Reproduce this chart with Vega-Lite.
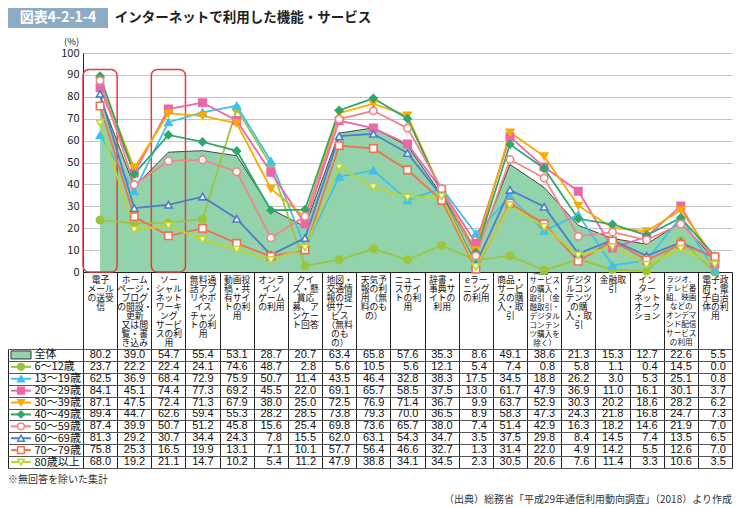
{
  "$schema": "https://vega.github.io/schema/vega-lite/v6.json",
  "padding": {"left": 7, "top": 8, "right": 5, "bottom": 2},
  "autosize": {"type": "pad"},
  "config": {
    "font": "Noto Sans CJK JP",
    "view": {"stroke": null},
    "legend": {"disable": true},
    "axis": {"labelColor": "#222", "domainColor": "#222", "tickColor": "#222"}
  },
  "datasets": {
    "main": [
      {"c": "電子\nメール\nの送受\n信", "box": 1, "全体": 80.2, "6～12歳": 23.7, "13～19歳": 62.5, "20～29歳": 84.1, "30～39歳": 87.1, "40～49歳": 89.4, "50～59歳": 87.4, "60～69歳": 81.3, "70～79歳": 75.8, "80歳以上": 68.0},
      {"c": "ホーム\nページ・\nブログ\nの開設・\n更新\n又は閲\n覧・書\nき込み", "全体": 39.0, "6～12歳": 22.2, "13～19歳": 36.9, "20～29歳": 45.1, "30～39歳": 47.5, "40～49歳": 44.7, "50～59歳": 39.9, "60～69歳": 29.2, "70～79歳": 25.3, "80歳以上": 19.2},
      {"c": "ソー\nシャル\nネット\nワーキ\nング\nサービ\nスの利\n用", "box": 1, "全体": 54.7, "6～12歳": 22.4, "13～19歳": 68.4, "20～29歳": 74.4, "30～39歳": 72.4, "40～49歳": 62.6, "50～59歳": 50.7, "60～69歳": 30.7, "70～79歳": 16.5, "80歳以上": 21.1},
      {"c": "無料通\n話アプ\nリやボ\nイス\nチャッ\nトの利\n用", "全体": 55.4, "6～12歳": 24.1, "13～19歳": 72.9, "20～29歳": 77.3, "30～39歳": 71.3, "40～49歳": 59.4, "50～59歳": 51.2, "60～69歳": 34.4, "70～79歳": 19.9, "80歳以上": 14.7},
      {"c": "動画投\n稿・共\n有サイ\nトの利\n用", "全体": 53.1, "6～12歳": 74.6, "13～19歳": 75.9, "20～29歳": 69.2, "30～39歳": 67.9, "40～49歳": 55.3, "50～59歳": 45.8, "60～69歳": 24.3, "70～79歳": 13.1, "80歳以上": 10.2},
      {"c": "オンラ\nイン\nゲーム\nの利用", "全体": 28.7, "6～12歳": 48.7, "13～19歳": 50.7, "20～29歳": 45.5, "30～39歳": 38.0, "40～49歳": 28.2, "50～59歳": 15.6, "60～69歳": 7.8, "70～79歳": 7.1, "80歳以上": 5.4},
      {"c": "クイ\nズ・懸\n賞応\n募、ア\nンケー\nト回答", "全体": 20.7, "6～12歳": 2.8, "13～19歳": 11.4, "20～29歳": 22.0, "30～39歳": 25.0, "40～49歳": 28.5, "50～59歳": 25.4, "60～69歳": 15.5, "70～79歳": 10.1, "80歳以上": 11.2},
      {"c": "地図・\n交通情\n報の提\n供サー\nビス\n（無料\nのも\nの）", "全体": 63.4, "6～12歳": 5.6, "13～19歳": 43.5, "20～29歳": 69.1, "30～39歳": 72.5, "40～49歳": 73.8, "50～59歳": 69.8, "60～69歳": 62.0, "70～79歳": 57.7, "80歳以上": 47.9},
      {"c": "天気予\n報の利\n用（無\n料のも\nの）", "全体": 65.8, "6～12歳": 10.5, "13～19歳": 46.4, "20～29歳": 65.7, "30～39歳": 76.9, "40～49歳": 79.3, "50～59歳": 73.6, "60～69歳": 63.1, "70～79歳": 56.4, "80歳以上": 38.8},
      {"c": "ニュー\nスサイ\nトの利\n用", "全体": 57.6, "6～12歳": 5.6, "13～19歳": 32.8, "20～29歳": 58.5, "30～39歳": 71.4, "40～49歳": 70.0, "50～59歳": 65.7, "60～69歳": 54.3, "70～79歳": 46.6, "80歳以上": 34.1},
      {"c": "辞書・\n事典サ\nイトの\n利用", "全体": 35.3, "6～12歳": 12.1, "13～19歳": 38.3, "20～29歳": 37.5, "30～39歳": 36.7, "40～49歳": 36.5, "50～59歳": 38.0, "60～69歳": 34.7, "70～79歳": 32.7, "80歳以上": 34.5},
      {"c": "eラー\nニング\nの利用", "全体": 8.6, "6～12歳": 5.4, "13～19歳": 17.5, "20～29歳": 13.0, "30～39歳": 9.9, "40～49歳": 8.9, "50～59歳": 7.4, "60～69歳": 3.5, "70～79歳": 1.3, "80歳以上": 2.3},
      {"c": "商品・\nサービ\nスの購\n入・取\n引", "全体": 49.1, "6～12歳": 7.4, "13～19歳": 34.5, "20～29歳": 61.7, "30～39歳": 63.7, "40～49歳": 58.3, "50～59歳": 51.4, "60～69歳": 37.5, "70～79歳": 31.4, "80歳以上": 30.5},
      {"c": "商品・\nサービス\nの購入・\n取引（金\n融取引・\nデジタル\nコンテン\nツ購入を\n除く）", "全体": 38.6, "6～12歳": 0.8, "13～19歳": 18.8, "20～29歳": 47.9, "30～39歳": 52.9, "40～49歳": 47.3, "50～59歳": 42.9, "60～69歳": 29.8, "70～79歳": 22.0, "80歳以上": 20.6},
      {"c": "デジタ\nルコン\nテンツ\nの購\n入・取\n引", "全体": 21.3, "6～12歳": 5.8, "13～19歳": 26.2, "20～29歳": 36.9, "30～39歳": 30.3, "40～49歳": 24.3, "50～59歳": 16.3, "60～69歳": 8.4, "70～79歳": 4.9, "80歳以上": 7.6},
      {"c": "金融取\n引", "全体": 15.3, "6～12歳": 1.1, "13～19歳": 3.0, "20～29歳": 11.0, "30～39歳": 20.2, "40～49歳": 21.8, "50～59歳": 18.2, "60～69歳": 14.5, "70～79歳": 14.2, "80歳以上": 11.4},
      {"c": "イン\nター\nネット\nオーク\nション", "全体": 12.7, "6～12歳": 0.4, "13～19歳": 5.3, "20～29歳": 16.1, "30～39歳": 18.6, "40～49歳": 16.8, "50～59歳": 14.6, "60～69歳": 7.4, "70～79歳": 5.5, "80歳以上": 3.3},
      {"c": "ラジオ、\nテレビ番\n組、映画\nなどの\nオンデマ\nンド配信\nサービス\nの利用", "全体": 22.6, "6～12歳": 14.5, "13～19歳": 25.1, "20～29歳": 30.1, "30～39歳": 28.2, "40～49歳": 24.7, "50～59歳": 21.9, "60～69歳": 13.5, "70～79歳": 12.6, "80歳以上": 10.6},
      {"c": "電子政\n府・電\n子自治\n体の利\n用", "全体": 5.5, "6～12歳": 0.0, "13～19歳": 0.8, "20～29歳": 3.7, "30～39歳": 6.2, "40～49歳": 7.3, "50～59歳": 7.0, "60～69歳": 6.5, "70～79歳": 7.0, "80歳以上": 3.5}
    ]
  },
  "spacing": 8,
  "vconcat": [
    {
      "hconcat": [
        {
          "width": 100, "height": 20,
          "view": {"fill": "#8eabc4", "stroke": null},
          "data": {"values": [{"t": "図表4-2-1-4"}]},
          "mark": {"type": "text", "color": "white", "fontSize": 14, "fontWeight": "bold"},
          "encoding": {"text": {"field": "t"}}
        },
        {
          "width": 258, "height": 20,
          "data": {"values": [{"t": "インターネットで利用した機能・サービス"}]},
          "mark": {"type": "text", "color": "#222", "fontSize": 13.5, "fontWeight": "bold"},
          "encoding": {"text": {"field": "t"}}
        }
      ],
      "spacing": 6
    },
    {
      "columns": 2,
      "spacing": {"row": 77, "column": 0},
      "bounds": "flush",
      "concat": [
        {"width": 75, "height": 219, "data": {"values": []}, "mark": "point"},
        {
          "width": 649, "height": 219,
          "data": {"name": "main"},
          "transform": [{"fold": ["全体", "6～12歳", "13～19歳", "20～29歳", "30～39歳", "40～49歳", "50～59歳", "60～69歳", "70～79歳", "80歳以上"], "as": ["g", "v"]}],
          "encoding": {
            "x": {
              "field": "c", "type": "nominal", "sort": null,
              "scale": {"type": "band", "paddingInner": 0, "paddingOuter": 0},
              "axis": {
                "title": null, "labelAngle": 0,
                "labelExpr": "split(datum.label, '\\n')",
                "labelFontSize": {"condition": {"test": "indexof(datum.label, '除く') >= 0 || indexof(datum.label, 'ラジオ') >= 0", "value": 7.6}, "value": 8.8},
                "labelPadding": {"condition": {"test": "indexof(datum.label, '除く') >= 0", "value": -82}, "value": -74},
                "labelLineHeight": 9,
                "labelBaseline": "top",
                "labelColor": "#111",
                "tickSize": 77, "tickBand": "extent", "tickColor": "#222",
                "domainColor": "#222", "grid": false
              }
            },
            "y": {
              "field": "v", "type": "quantitative",
              "scale": {"domain": [0, 100]},
              "axis": {
                "tickCount": 10, "grid": true, "gridColor": "#c4c4c4", "ticks": false,
                "domain": true, "domainColor": "#222",
                "labelFontSize": 11, "labelPadding": 4, "labelColor": "#222",
                "title": "(%)", "titleAngle": 0, "titleX": -12, "titleY": -7,
                "titleFontSize": 9.5, "titleFontWeight": "normal", "titleAlign": "center", "titleBaseline": "bottom", "titleColor": "#222"
              }
            }
          },
          "layer": [
            {
              "transform": [{"filter": "datum.g === '全体'"}],
              "mark": {"type": "area", "color": "#93d3ab", "opacity": 1, "line": {"color": "#444", "strokeWidth": 1}}
            },
            {
              "transform": [{"filter": "datum.box === 1 && datum.g === '全体'"}],
              "mark": {"type": "rect", "fill": "transparent", "stroke": "#e8393f", "strokeWidth": 1.5, "cornerRadius": 6},
              "encoding": {"y": {"datum": 92.5, "type": "quantitative"}, "y2": {"datum": 0}}
            },
            {
              "transform": [{"filter": "datum.g !== '全体'"}],
              "mark": {"type": "line", "strokeWidth": 1.8},
              "encoding": {
                "color": {"field": "g", "type": "nominal",
                  "scale": {"domain": ["6～12歳", "13～19歳", "20～29歳", "30～39歳", "40～49歳", "50～59歳", "60～69歳", "70～79歳", "80歳以上"],
                            "range": ["#9bc53d", "#40c0ec", "#ec67a8", "#f7ac00", "#2fa86b", "#f08585", "#4d7ec8", "#f0714f", "#bdd52e"]}}
              }
            },
            {
              "transform": [{"filter": "datum.g !== '全体'"}],
              "mark": {"type": "point", "filled": true, "size": 55, "strokeWidth": 1.6, "opacity": 1},
              "encoding": {
                "shape": {"field": "g", "type": "nominal",
                  "scale": {"domain": ["6～12歳", "13～19歳", "20～29歳", "30～39歳", "40～49歳", "50～59歳", "60～69歳", "70～79歳", "80歳以上"],
                            "range": ["circle", "triangle-up", "square", "triangle-down", "diamond", "circle", "triangle-up", "square", "triangle-down"]}},
                "fill": {"field": "g", "type": "nominal",
                  "scale": {"domain": ["6～12歳", "13～19歳", "20～29歳", "30～39歳", "40～49歳", "50～59歳", "60～69歳", "70～79歳", "80歳以上"],
                            "range": ["#9bc53d", "#40c0ec", "#ec67a8", "#f7ac00", "#2fa86b", "white", "white", "white", "white"]}},
                "stroke": {"field": "g", "type": "nominal",
                  "scale": {"domain": ["6～12歳", "13～19歳", "20～29歳", "30～39歳", "40～49歳", "50～59歳", "60～69歳", "70～79歳", "80歳以上"],
                            "range": ["#9bc53d", "#40c0ec", "#ec67a8", "#f7ac00", "#2fa86b", "#f08585", "#4d7ec8", "#f0714f", "#bdd52e"]}}
              }
            }
          ]
        },
        {
          "width": 26, "height": 119,
          "data": {"name": "main"},
          "transform": [
            {"filter": {"field": "c", "equal": "電子\nメール\nの送受\n信"}},
            {"fold": ["全体", "6～12歳", "13～19歳", "20～29歳", "30～39歳", "40～49歳", "50～59歳", "60～69歳", "70～79歳", "80歳以上"], "as": ["g", "v"]}
          ],
          "encoding": {
            "y": {"field": "g", "type": "nominal",
              "scale": {"domain": ["全体", "6～12歳", "13～19歳", "20～29歳", "30～39歳", "40～49歳", "50～59歳", "60～69歳", "70～79歳", "80歳以上"], "paddingInner": 0, "paddingOuter": 0},
              "axis": {"labels": false, "ticks": false, "title": null, "domain": true, "domainColor": "#222", "grid": false}}
          },
          "layer": [
            {
              "transform": [{"filter": "datum.g === '全体'"}],
              "mark": {"type": "tick", "orient": "horizontal", "size": 20, "thickness": 8, "color": "#93d3ab", "stroke": "#333", "strokeWidth": 1, "opacity": 1}
            },
            {
              "transform": [{"filter": "datum.g !== '全体'"}],
              "mark": {"type": "tick", "orient": "horizontal", "size": 20, "thickness": 2, "opacity": 1},
              "encoding": {
                "color": {"field": "g", "type": "nominal",
                  "scale": {"domain": ["6～12歳", "13～19歳", "20～29歳", "30～39歳", "40～49歳", "50～59歳", "60～69歳", "70～79歳", "80歳以上"],
                            "range": ["#9bc53d", "#40c0ec", "#ec67a8", "#f7ac00", "#2fa86b", "#f08585", "#4d7ec8", "#f0714f", "#bdd52e"]}}
              }
            },
            {
              "transform": [{"filter": "datum.g !== '全体'"}],
              "mark": {"type": "point", "filled": true, "size": 45, "strokeWidth": 1.5, "opacity": 1},
              "encoding": {
                "shape": {"field": "g", "type": "nominal",
                  "scale": {"domain": ["6～12歳", "13～19歳", "20～29歳", "30～39歳", "40～49歳", "50～59歳", "60～69歳", "70～79歳", "80歳以上"],
                            "range": ["circle", "triangle-up", "square", "triangle-down", "diamond", "circle", "triangle-up", "square", "triangle-down"]}},
                "fill": {"field": "g", "type": "nominal",
                  "scale": {"domain": ["6～12歳", "13～19歳", "20～29歳", "30～39歳", "40～49歳", "50～59歳", "60～69歳", "70～79歳", "80歳以上"],
                            "range": ["#9bc53d", "#40c0ec", "#ec67a8", "#f7ac00", "#2fa86b", "white", "white", "white", "white"]}},
                "stroke": {"field": "g", "type": "nominal",
                  "scale": {"domain": ["6～12歳", "13～19歳", "20～29歳", "30～39歳", "40～49歳", "50～59歳", "60～69歳", "70～79歳", "80歳以上"],
                            "range": ["#9bc53d", "#40c0ec", "#ec67a8", "#f7ac00", "#2fa86b", "#f08585", "#4d7ec8", "#f0714f", "#bdd52e"]}}
              }
            }
          ],
          "title": {"text": "※無回答を除いた集計", "orient": "bottom", "anchor": "start", "frame": "group", "offset": 7, "fontSize": 10, "fontWeight": "normal", "color": "#333"}
        },
        {
          "width": 649, "height": 119,
          "view": {"stroke": "#222"},
          "data": {"name": "main"},
          "transform": [{"fold": ["全体", "6～12歳", "13～19歳", "20～29歳", "30～39歳", "40～49歳", "50～59歳", "60～69歳", "70～79歳", "80歳以上"], "as": ["g", "v"]}],
          "mark": {"type": "text", "align": "right", "dx": 11, "font": "Liberation Sans", "fontSize": 11, "color": "#111"},
          "encoding": {
            "x": {"field": "c", "type": "nominal", "sort": null,
              "scale": {"type": "band", "paddingInner": 0, "paddingOuter": 0},
              "axis": {"orient": "top", "labels": false, "ticks": false, "domain": false, "title": null, "grid": true, "tickBand": "extent", "gridColor": "#222", "gridWidth": 1}},
            "y": {"field": "g", "type": "nominal",
              "scale": {"domain": ["全体", "6～12歳", "13～19歳", "20～29歳", "30～39歳", "40～49歳", "50～59歳", "60～69歳", "70～79歳", "80歳以上"], "paddingInner": 0, "paddingOuter": 0},
              "axis": {"title": null, "grid": true, "tickBand": "extent", "gridColor": "#555", "tickSize": 75, "tickColor": "#555", "labelAlign": "left", "labelPadding": -26, "labelFontSize": 11, "labelColor": "#111", "domain": false}},
            "text": {"field": "v", "type": "quantitative", "format": ".1f"}
          },
          "title": {"text": "（出典）総務省「平成29年通信利用動向調査」（2018）より作成", "orient": "bottom", "anchor": "end", "frame": "group", "offset": 26, "fontSize": 10, "fontWeight": "normal", "color": "#333"}
        }
      ]
    }
  ]
}
